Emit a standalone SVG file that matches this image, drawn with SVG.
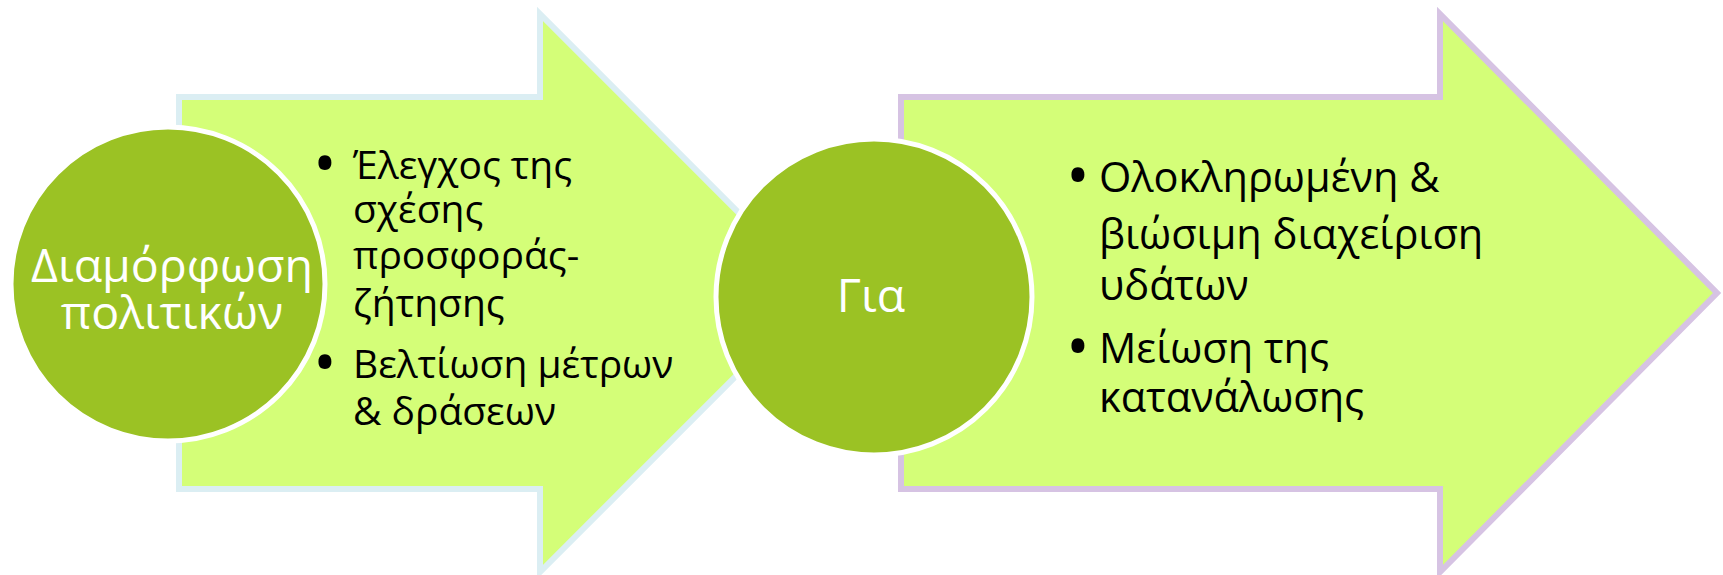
<svg xmlns="http://www.w3.org/2000/svg" width="1723" height="575" viewBox="0 0 1723 575">
<style>
.arrow{fill:#D4FE78;stroke-width:6;stroke-linejoin:miter}
.a1{stroke:#DBEEF3}
.a2{stroke:#D6C3E3}
.circ{fill:#9BC224;stroke:#FFFFFF;stroke-width:5}
.ct{font-family:"Open Sans","Noto Sans",sans-serif;fill:#FFFFFF;text-anchor:middle;font-size:46.5px}
.bt{font-family:"Open Sans","Noto Sans",sans-serif;fill:#000000}
.l{font-size:39px}
.r{font-size:41.5px}
.bl{font-family:"Open Sans","Noto Sans",sans-serif;fill:#000000;text-anchor:middle;font-size:62px}
</style>
<rect width="1723" height="575" fill="#FFFFFF"/>
<g id="arrow1">
<path class="arrow a1" d="M179,97 L540,97 L540,14 L819,293 L540,572 L540,489 L179,489 Z"/>
<text class="bl" x="325" y="185">•</text>
<text class="bt l" x="353" y="179">Έλεγχος της</text>
<text class="bt l" x="353" y="223">σχέσης</text>
<text class="bt l" x="353" y="269">προσφοράς-</text>
<text class="bt l" x="353" y="317">ζήτησης</text>
<text class="bl" x="325" y="384">•</text>
<text class="bt l" x="353" y="378">Βελτίωση μέτρων</text>
<text class="bt l" x="353" y="425">&amp; δράσεων</text>
</g>
<g id="arrow2">
<path class="arrow a2" d="M901,97 L1440,97 L1440,14 L1717,293 L1440,572 L1440,489 L901,489 Z"/>
<text class="bl" x="1078" y="197">•</text>
<text class="bt r" x="1099" y="192">Ολοκληρωμένη &amp;</text>
<text class="bt r" x="1099" y="249">βιώσιμη διαχείριση</text>
<text class="bt r" x="1099" y="300">υδάτων</text>
<text class="bl" x="1078" y="368">•</text>
<text class="bt r" x="1099" y="363">Μείωση της</text>
<text class="bt r" x="1099" y="412">κατανάλωσης</text>
</g>
<g id="circle1">
<circle class="circ" cx="168" cy="284" r="157"/>
<text class="ct" x="172" y="282">Διαμόρφωση</text>
<text class="ct" x="172" y="329">πολιτικών</text>
</g>
<g id="circle2">
<circle class="circ" cx="874" cy="297" r="158"/>
<text class="ct" x="871" y="312">Για</text>
</g>
<g id="connectors"></g>
</svg>
